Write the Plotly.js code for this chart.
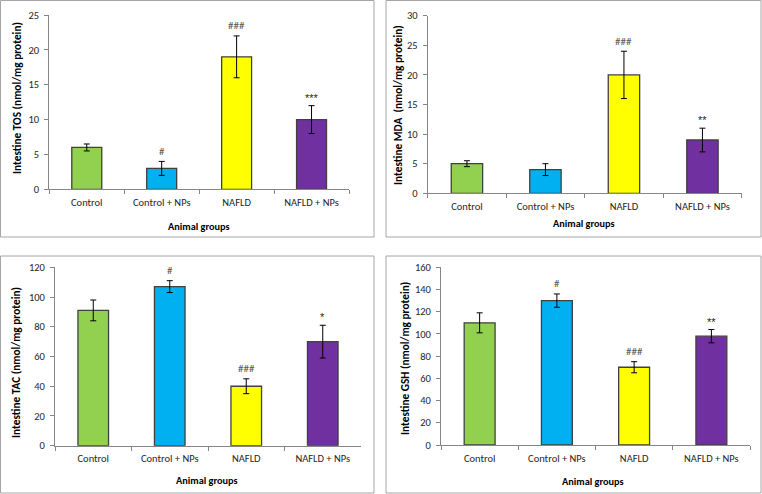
<!DOCTYPE html>
<html>
<head>
<meta charset="utf-8">
<script src="https://cdn.plot.ly/plotly-3.0.1.min.js"></script>
<style>html,body{margin:0;padding:0;background:#fff;}#chart{width:762px;height:494px;}</style>
</head>
<body>
<div id="chart"></div>
<script>
var groups = ["Control", "Control + NPs", "NAFLD", "NAFLD + NPs"];
var barColors = ["#92D050", "#00B0F0", "#FFFF00", "#7030A0"];

var tosValues = [6, 3, 19, 10];
var tosErrors = [0.5, 1, 3, 2];
var tosMarks = ["", "#", "###", "***"];

var mdaValues = [5, 4, 20, 9];
var mdaErrors = [0.5, 1, 4, 2];
var mdaMarks = ["", "", "###", "**"];

var tacValues = [91, 107, 40, 70];
var tacErrors = [7, 4, 5, 11];
var tacMarks = ["", "#", "###", "*"];

var gshValues = [110, 130, 70, 98];
var gshErrors = [9, 6, 5, 6];
var gshMarks = ["", "#", "###", "**"];

var yTitles = ["Intestine TOS (nmol/mg protein)", "Intestine MDA  (nmol/mg protein)",
               "Intestine TAC (nmol/mg protein)", "Intestine GSH (nmol/mg protein)"];
var xTitle = "Animal groups";
var yRanges = [[0, 25], [0, 30], [0, 120], [0, 160]];
var yDtick = [5, 5, 20, 20];

var W = 762, H = 494;
var FONT = "Carlito, Lato, 'Liberation Sans', sans-serif";
var MARKFONT = "'Liberation Sans', Arimo, sans-serif";

// pixel geometry of each panel
var panels = [
  {x0: 49.3, x1: 349, yb: 189.3, yt: 15, box: [0.5, 0.5, 374, 237], yt_x: 17, yt_y: 98, xt_x: 199, xt_y: 226},
  {x0: 427.7, x1: 741.7, yb: 193.3, yt: 15.7, box: [386, 0.5, 761, 237], yt_x: 398, yt_y: 105, xt_x: 584, xt_y: 223},
  {x0: 55, x1: 361, yb: 445.7, yt: 267.3, box: [0.5, 256, 374, 493], yt_x: 16, yt_y: 363, xt_x: 207, xt_y: 480},
  {x0: 441, x1: 750, yb: 445, yt: 267.3, box: [386, 256, 761, 493], yt_x: 405, yt_y: 359, xt_x: 593, xt_y: 481}
];

var datasets = [
  [tosValues, tosErrors, tosMarks],
  [mdaValues, mdaErrors, mdaMarks],
  [tacValues, tacErrors, tacMarks],
  [gshValues, gshErrors, gshMarks]
];

var traces = [];
var layout = {
  width: W, height: H,
  margin: {l: 0, r: 0, t: 0, b: 0},
  paper_bgcolor: "#fff", plot_bgcolor: "rgba(0,0,0,0)",
  showlegend: false,
  bargap: 0.6,
  font: {family: FONT, size: 10.5, color: "#262626"},
  annotations: [],
  shapes: []
};

datasets.forEach(function (d, i) {
  var p = panels[i];
  var sfx = i === 0 ? "" : String(i + 1);
  traces.push({
    type: "bar",
    x: groups,
    y: d[0],
    xaxis: "x" + sfx,
    yaxis: "y" + sfx,
    marker: {color: barColors, line: {color: "#404040", width: 1.3}},
    error_y: {type: "data", array: d[1], visible: true, color: "#000", thickness: 1, width: 3},
    hoverinfo: "x+y"
  });
  layout["xaxis" + sfx] = {
    domain: [p.x0 / W, p.x1 / W],
    anchor: "y" + sfx,
    showline: true, linecolor: "#868686", linewidth: 1,
    ticks: "outside", tickson: "boundaries", ticklen: 4, tickcolor: "#868686",
    ticklabelstandoff: 3,
    tickfont: {family: FONT, size: 10.5, color: "#262626"},
    showgrid: false, zeroline: false, fixedrange: true
  };
  layout["yaxis" + sfx] = {
    domain: [1 - p.yb / H, 1 - p.yt / H],
    anchor: "x" + sfx,
    range: yRanges[i], dtick: yDtick[i], tick0: 0,
    showline: true, linecolor: "#868686", linewidth: 1,
    ticks: "outside", ticklen: 4, tickcolor: "#868686",
    ticklabelstandoff: 3,
    tickfont: {family: FONT, size: 10.5, color: "#262626"},
    showgrid: false, zeroline: false, fixedrange: true
  };
  // significance marks
  d[2].forEach(function (m, k) {
    if (!m) return;
    var isHash = m.charAt(0) === "#";
    layout.annotations.push({
      xref: "x" + sfx, yref: "y" + sfx,
      x: groups[k], y: d[0][k] + d[1][k],
      text: m, showarrow: false, yanchor: "middle", yshift: isHash ? 10 : 8,
      font: {family: isHash ? FONT : MARKFONT, size: isHash ? 11 : 11, color: isHash ? "#595959" : "#262626"}
    });
  });
  // axis titles
  layout.annotations.push({
    xref: "paper", yref: "paper", x: p.xt_x / W, y: 1 - p.xt_y / H,
    text: "<b>" + xTitle + "</b>", showarrow: false, xanchor: "center", yanchor: "middle",
    font: {family: FONT, size: 10.3, color: "#000"}
  });
  layout.annotations.push({
    xref: "paper", yref: "paper", x: p.yt_x / W, y: 1 - p.yt_y / H,
    text: "<b>" + yTitles[i] + "</b>", showarrow: false, textangle: -90,
    xanchor: "center", yanchor: "middle",
    font: {family: FONT, size: 11.3, color: "#000"}
  });
  // panel border
  layout.shapes.push({
    type: "rect", xref: "paper", yref: "paper",
    x0: p.box[0] / W, x1: p.box[2] / W, y0: 1 - p.box[3] / H, y1: 1 - p.box[1] / H,
    line: {color: "#a6a6a6", width: 1}
  });
});

Plotly.newPlot("chart", traces, layout, {displayModeBar: false, staticPlot: true});
</script>
</body>
</html>
